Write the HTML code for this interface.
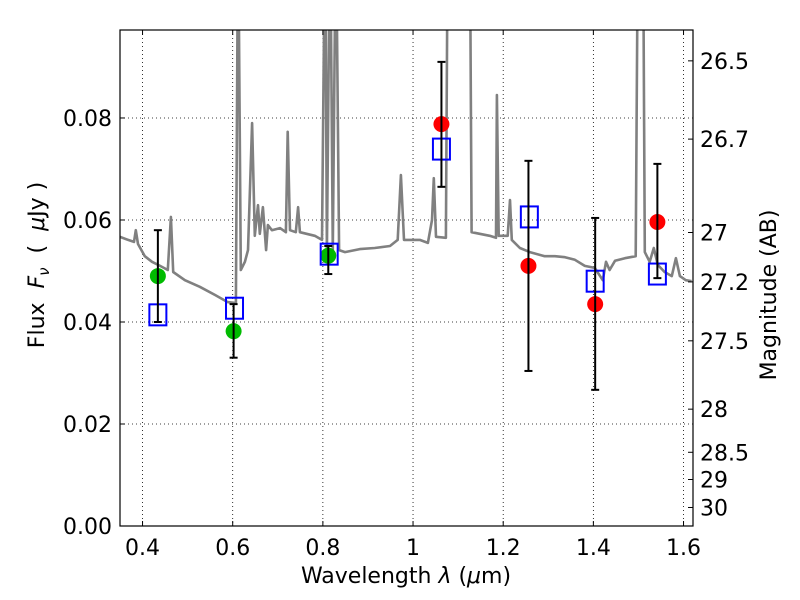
<!DOCTYPE html>
<html><head><meta charset="utf-8"><style>
body{margin:0;background:#fff}
svg{display:block;font-family:"DejaVu Sans","Liberation Sans",sans-serif}
</style></head><body>
<svg id="chart" width="800" height="600" viewBox="0 0 800 600">
<defs><clipPath id="pc"><rect x="120" y="30" width="573" height="496"/></clipPath></defs>
<rect x="0" y="0" width="800" height="600" fill="#fff"/>
<g id="grid"></g>
<g id="spec" clip-path="url(#pc)"></g>
<g id="marks" clip-path="url(#pc)"></g>
<rect x="120" y="30" width="573" height="496" fill="none" stroke="#000" stroke-width="1.2"/>
<g id="axes"></g>
<text x="406" y="583" font-size="22" text-anchor="middle">Wavelength  <tspan font-style="italic">λ</tspan> (<tspan font-style="italic">μ</tspan>m)</text>
<text transform="translate(44,265) rotate(-90)" font-size="22" text-anchor="middle" xml:space="preserve">Flux  <tspan font-style="italic">F<tspan font-size="15" dy="5">ν</tspan></tspan><tspan dy="-5">  (  </tspan><tspan font-style="italic">μ</tspan>Jy )</text>
<text transform="translate(776,295) rotate(-90)" font-size="22" text-anchor="middle">Magnitude (AB)</text>
</svg>
<script>
const specLam=[0.350,0.368,0.381,0.385,0.390,0.405,0.421,0.439,0.456,0.463,0.468,0.494,0.527,0.561,0.589,0.607,0.612,0.618,0.627,0.634,0.643,0.649,0.656,0.660,0.667,0.674,0.678,0.687,0.705,0.718,0.722,0.727,0.740,0.745,0.749,0.782,0.798,0.805,0.809,0.816,0.822,0.829,0.836,0.849,0.882,0.915,0.949,0.966,0.973,0.980,1.015,1.033,1.042,1.046,1.051,1.073,1.077,1.126,1.130,1.170,1.184,1.186,1.190,1.210,1.215,1.219,1.237,1.259,1.292,1.315,1.337,1.359,1.381,1.403,1.421,1.428,1.436,1.448,1.470,1.494,1.499,1.510,1.514,1.525,1.534,1.543,1.558,1.574,1.583,1.592,1.605,1.618];
const specFlux=[0.0567,0.0561,0.0557,0.0580,0.0553,0.0529,0.0518,0.0510,0.0502,0.0606,0.0498,0.0482,0.0469,0.0453,0.0439,0.0437,0.12,0.0502,0.0518,0.0541,0.079,0.0569,0.0629,0.0573,0.0625,0.0541,0.059,0.058,0.0584,0.0576,0.0773,0.058,0.0576,0.0625,0.0576,0.0569,0.0561,0.12,0.0541,0.12,0.0541,0.12,0.0541,0.0537,0.0543,0.0545,0.0549,0.0561,0.0688,0.0561,0.0561,0.0555,0.06,0.0682,0.0567,0.0565,0.12,0.12,0.0576,0.0569,0.0565,0.0845,0.0569,0.0569,0.0639,0.0561,0.0545,0.0537,0.0529,0.0529,0.0527,0.0522,0.051,0.0506,0.0482,0.0518,0.0502,0.052,0.0525,0.0529,0.12,0.12,0.0537,0.0518,0.0545,0.0512,0.0498,0.049,0.0525,0.049,0.0482,0.048];
const greenLam=[0.434,0.602,0.812];
const greenFlux=[0.0490,0.0382,0.0530];
const greenHi=[0.0580,0.0435,0.0549];
const greenLo=[0.0400,0.0330,0.0494];
const redLam=[1.063,1.256,1.404,1.542];
const redFlux=[0.0788,0.0510,0.0435,0.0596];
const redHi=[0.0910,0.0716,0.0604,0.0710];
const redLo=[0.0665,0.0304,0.0267,0.0486];
const sqLam=[0.434,0.604,0.814,1.063,1.258,1.404,1.542];
const sqFlux=[0.0414,0.0427,0.0533,0.0739,0.0606,0.0480,0.0494];
const xTicks=[0.4,0.6,0.8,1.0,1.2,1.4,1.6];
const xTickLabels=["0.4","0.6","0.8","1","1.2","1.4","1.6"];
const yTicks=[0,0.02,0.04,0.06,0.08];
const yTickLabels=["0.00","0.02","0.04","0.06","0.08"];
const magTicks=[26.5,26.7,27,27.2,27.5,28,28.5,29,30];
const magTickLabels=["26.5","26.7","27","27.2","27.5","28","28.5","29","30"];

const X0=120,X1=693,Y0=526,Y1=30,XMIN=0.35,XMAX=1.621,YMIN=0,YMAX=0.09725;
const sx=v=>X0+(v-XMIN)/(XMAX-XMIN)*(X1-X0);
const sy=v=>Y0-(v-YMIN)/(YMAX-YMIN)*(Y0-Y1);
const magToFlux=m=>Math.pow(10,(23.9-m)/2.5);
const NS="http://www.w3.org/2000/svg";
function mk(tag,attrs,parent){const e=document.createElementNS(NS,tag);for(const k in attrs)e.setAttribute(k,attrs[k]);parent.appendChild(e);return e;}
const grid=document.getElementById('grid'),axes=document.getElementById('axes'),spec=document.getElementById('spec'),marks=document.getElementById('marks');

xTicks.forEach((t,i)=>{const x=sx(t);
 let g=mk('line',{x1:x,x2:x,y1:Y1,y2:Y0,stroke:'#000','stroke-width':0.8,'stroke-dasharray':'1,3'},grid);
 
 
 mk('line',{x1:x,x2:x,y1:Y0,y2:Y0-5,stroke:'#000'},axes);
 mk('line',{x1:x,x2:x,y1:Y1,y2:Y1+5,stroke:'#000'},axes);
 let tx=mk('text',{x:x,y:Y0+29,'font-size':22,'text-anchor':'middle'},axes);tx.textContent=xTickLabels[i];
 
 
});
yTicks.forEach((t,i)=>{const y=sy(t);
 if(t>0){let g=mk('line',{x1:X0,x2:X1,y1:y,y2:y,stroke:'#000','stroke-width':0.8,'stroke-dasharray':'1,3'},grid);
 
 }
 mk('line',{x1:X0,x2:X0+5,y1:y,y2:y,stroke:'#000'},axes);
 let tx=mk('text',{x:X0-8,y:y+8,'font-size':22,'text-anchor':'end'},axes);tx.textContent=yTickLabels[i];
 
 
});
magTicks.forEach((m,i)=>{const y=sy(magToFlux(m));
 mk('line',{x1:X1,x2:X1-5,y1:y,y2:y,stroke:'#000'},axes);
 let tx=mk('text',{x:X1+7,y:y+8,'font-size':22},axes);tx.textContent=magTickLabels[i];
 
 
});

let pts=specLam.map((l,i)=>sx(l).toFixed(1)+','+sy(specFlux[i]).toFixed(1)).join(' ');
let pl=mk('polyline',{points:pts,fill:'none',stroke:'#808080','stroke-width':2.6,'stroke-linejoin':'round'},spec);



function errbar(l,hi,lo){const x=sx(l);
 let g=mk('g',{},marks);
 
 
 mk('line',{x1:x,x2:x,y1:sy(hi),y2:sy(lo),stroke:'#000','stroke-width':2},g);
 mk('line',{x1:x-4,x2:x+4,y1:sy(hi),y2:sy(hi),stroke:'#000','stroke-width':2},g);
 mk('line',{x1:x-4,x2:x+4,y1:sy(lo),y2:sy(lo),stroke:'#000','stroke-width':2},g);}
greenLam.forEach((l,i)=>{let c=mk('circle',{cx:sx(l),cy:sy(greenFlux[i]),r:8,fill:'#00bb00'},marks);
 
 });
redLam.forEach((l,i)=>{let c=mk('circle',{cx:sx(l),cy:sy(redFlux[i]),r:8,fill:'#ff0000'},marks);
 
 });
sqLam.forEach((l,i)=>{let r=mk('rect',{x:sx(l)-8.5,y:sy(sqFlux[i])-10.5,width:17,height:21,fill:'none',stroke:'#0000ff','stroke-width':2},marks);
 
 });
greenLam.forEach((l,i)=>errbar(l,greenHi[i],greenLo[i]));
redLam.forEach((l,i)=>errbar(l,redHi[i],redLo[i]));
</script>
</body></html>
